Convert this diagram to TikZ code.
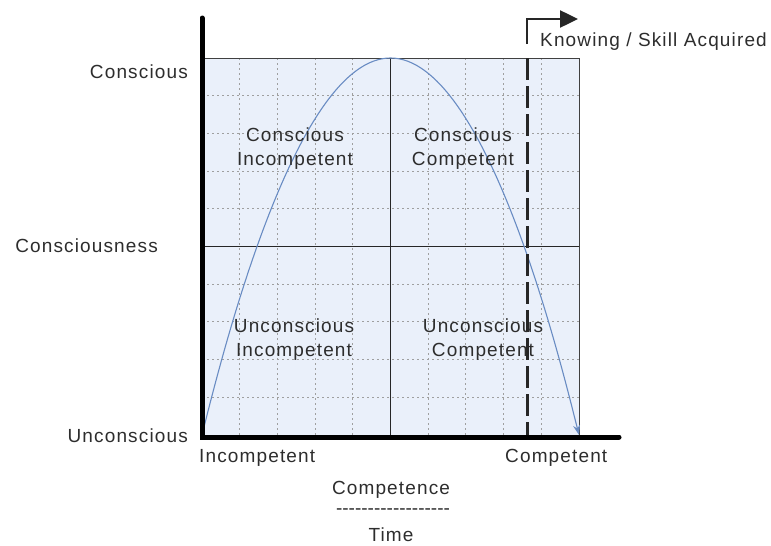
\documentclass[tikz,border=0pt]{standalone}
\usepackage{fontspec}
\usepackage{tikz}
\usetikzlibrary{arrows.meta,positioning}
\newfontfamily\chartfont{Liberation Sans}[LetterSpace=6]
\definecolor{boxblue}{RGB}{234,240,250}
\definecolor{curveblue}{RGB}{105,140,195}
\definecolor{inkgray}{RGB}{45,45,45}
\newcommand{\hyphenrule}{\foreach \k in {1,...,18}{-\kern0pt}}
\tikzset{
  area/.style={fill=boxblue},
  gridline/.style={gray!75,dash pattern=on 2pt off 3pt,line width=0.9pt},
  frame/.style={draw=black!75,line width=1pt},
  midline/.style={black!85,line width=1.4pt},
  axis/.style={line width=5pt,black,line cap=round},
  learning/.style={curveblue,line width=1.1pt,-{Stealth[length=10pt,width=7pt]}},
  acquired/.style={black!85,line width=3pt,dash pattern=on 22pt off 6pt},
  bracket/.style={black!85,line width=2.5pt,-{Triangle[length=18pt,width=17pt]}},
  lbl/.style={font=\chartfont\fontsize{19}{24}\selectfont,text=inkgray,inner sep=1pt},
  quad/.style={lbl,align=center},
}
\begin{document}
\begin{tikzpicture}[x=1pt,y=-1pt]
  \useasboundingbox (0,0) rectangle (771,546);
  % plot area
  \coordinate (lo) at (202,435);
  \coordinate (hi) at (579,58);
  \coordinate (peak) at (390.5,58);
  \coordinate (end) at (579,435);
  \fill[area] (lo) rectangle (hi);
  \foreach \i in {1,...,9} {
    \draw[gridline] ({202+37.7*\i},58) -- ({202+37.7*\i},435);
    \draw[gridline] (202,{58+37.7*\i}) -- (579,{58+37.7*\i});
  }
  \draw[frame] (lo) rectangle (hi);
  \draw[midline] (peak) -- (390.5,435);
  \draw[midline] (202,246.5) -- (579,246.5);
  % learning curve
  \draw[learning] (lo) parabola bend (peak) (end);
  % skill acquired marker
  \coordinate (mk) at (527,44);
  \draw[acquired] (527,58) -- (527,435);
  \draw[bracket] (mk) -- (527,19) -- (578,19);
  % axes
  \draw[axis] (202,18) -- (202,437) -- (619,437);
  % labels
  \node[lbl,anchor=west] (knowing) at (539,42) {Knowing / Skill Acquired};
  \node[lbl,anchor=east] (conscious) at (189,72) {Conscious};
  \node[lbl,anchor=east] (consciousness) at (159,246) {Consciousness};
  \node[lbl,anchor=east] (unconscious) at (189,436) {Unconscious};
  \node[lbl,anchor=west] (incompetent) at (198,458) {Incompetent};
  \node[lbl,anchor=west] (competent) at (504,458) {Competent};
  \node[lbl] (competence) at (391,490) {Competence};
  \node[lbl] (rule) at (393,512) {\hyphenrule};
  \node[lbl] (time) at (391,535) {Time};
  \node[quad] (ci) at (295,149) {Conscious\\Incompetent};
  \node[quad] (cc) at (463,149) {Conscious\\Competent};
  \node[quad] (ui) at (294,340) {Unconscious\\Incompetent};
  \node[quad] (uc) at (483,340) {Unconscious\\Competent};
\end{tikzpicture}
\end{document}
